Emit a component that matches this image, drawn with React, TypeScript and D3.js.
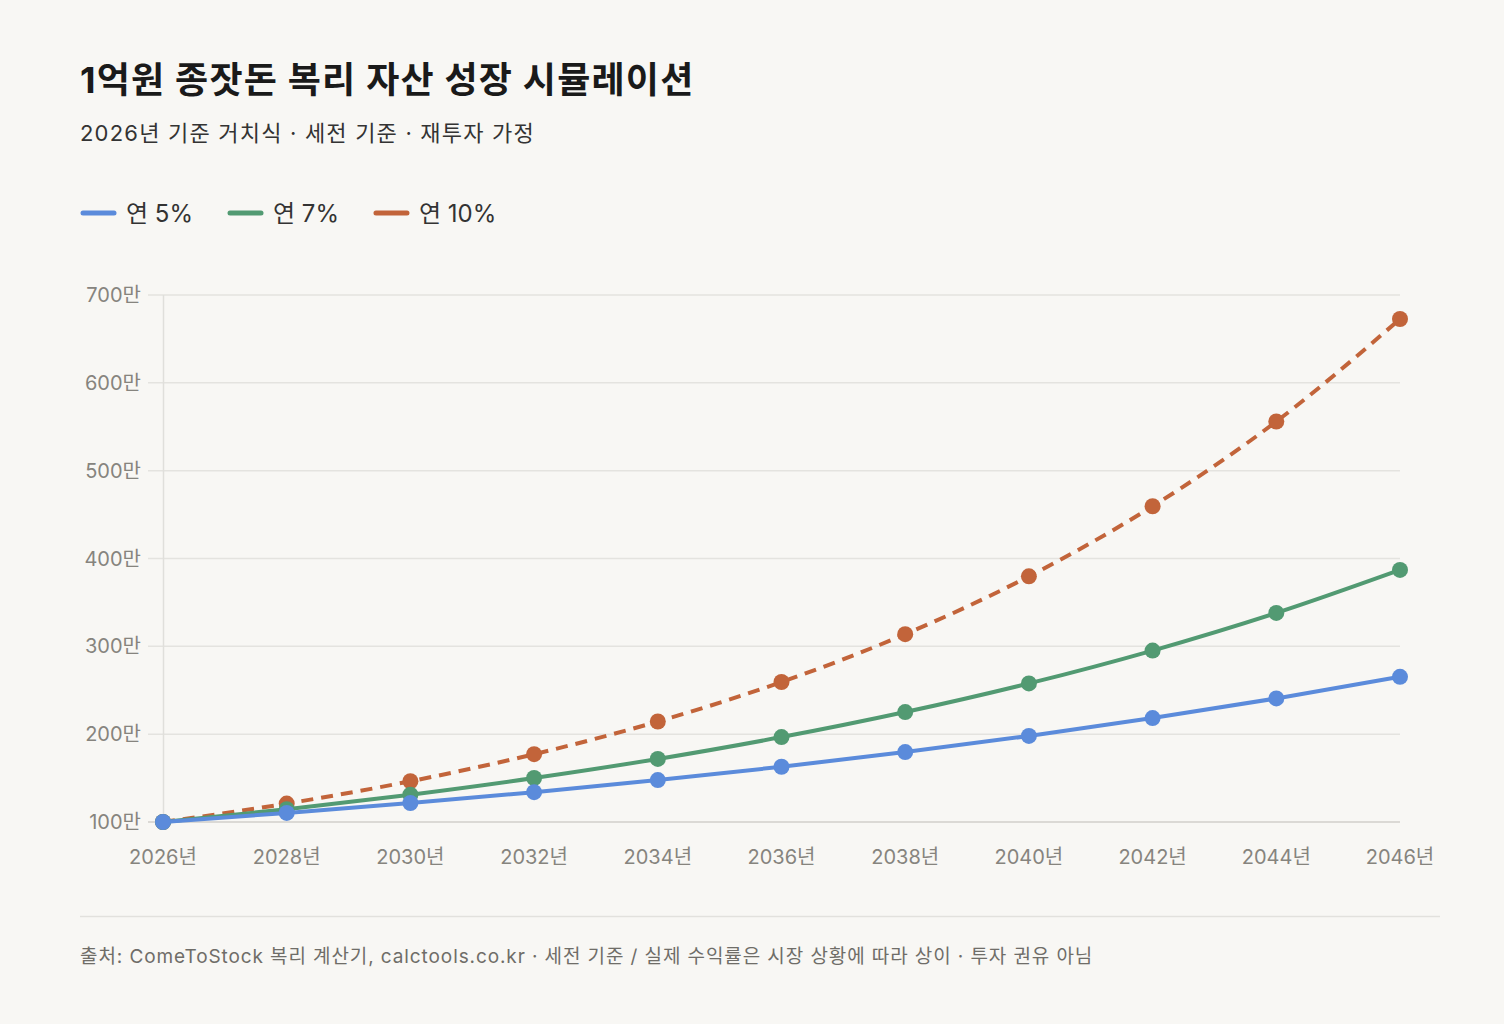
import React, { useEffect, useRef } from "react";
import * as d3 from "d3";

const years = [2026, 2028, 2030, 2032, 2034, 2036, 2038, 2040, 2042, 2044, 2046];
const rate5 = [100, 110.3, 121.6, 134.0, 147.7, 162.9, 179.6, 198.0, 218.3, 240.7, 265.3];
const rate7 = [100, 114.5, 131.1, 150.1, 171.8, 196.7, 225.2, 257.8, 295.2, 338.0, 387.0];
const rate10 = [100, 121.0, 146.4, 177.2, 214.4, 259.4, 313.8, 379.7, 459.5, 556.0, 672.7];
const yTicks = [100, 200, 300, 400, 500, 600, 700];

const seriesList = [
  { name: "연 10%", values: rate10, color: "#c2643a", dash: "12 8" },
  { name: "연 7%", values: rate7, color: "#529a72", dash: null },
  { name: "연 5%", values: rate5, color: "#5b8bdb", dash: null },
];
const legendOrder = ["연 5%", "연 7%", "연 10%"];

const FONT = "Inter, 'Noto Sans CJK KR', sans-serif";

export default function App() {
  const svgRef = useRef<SVGSVGElement>(null);

  useEffect(() => {
    document.body.style.margin = "0";
    document.body.style.background = "#f8f7f4";
    const width = 1504;
    const height = 1024;
    const svg = d3.select(svgRef.current).attr("width", width).attr("height", height)
      .style("display", "block");
    svg.selectAll("*").remove();
    svg.append("rect").attr("width", width).attr("height", height).attr("fill", "#f8f7f4");

    const x = d3.scaleLinear().domain([2026, 2046]).range([163, 1400]);
    const y = d3.scaleLinear().domain([100, 700]).range([822, 295]);

    // title block
    svg.append("text").text("1억원 종잣돈 복리 자산 성장 시뮬레이션")
      .attr("x", 80).attr("y", 93).attr("fill", "#1a1a1a")
      .style("font-family", FONT).style("font-size", "36px").style("font-weight", 700)
      .style("letter-spacing", "1.2px");
    svg.append("text").text("2026년 기준 거치식 · 세전 기준 · 재투자 가정")
      .attr("x", 80).attr("y", 141).attr("fill", "#333")
      .style("font-family", FONT).style("font-size", "22px")
      .style("letter-spacing", "1.2px");

    // legend
    let lx = 81;
    legendOrder.forEach((name) => {
      const s = seriesList.find((d) => d.name === name)!;
      svg.append("line").attr("x1", lx + 2).attr("x2", lx + 33).attr("y1", 213).attr("y2", 213)
        .attr("stroke", s.color).attr("stroke-width", 5).attr("stroke-linecap", "round");
      const t = svg.append("text").text(name).attr("x", lx + 45).attr("y", 222)
        .attr("fill", "#333").style("font-family", FONT).style("font-size", "24px");
      const w = (t.node() as SVGTextElement).getComputedTextLength();
      lx += 45 + w + 35;
    });

    // grid
    const g = svg.append("g");
    g.selectAll("line.grid").data(yTicks).join("line")
      .attr("x1", 148).attr("x2", 1400)
      .attr("y1", (d) => y(d)).attr("y2", (d) => y(d))
      .attr("stroke", "#e4e3df").attr("stroke-width", 1.5);
    g.append("line").attr("x1", 163.5).attr("x2", 163.5).attr("y1", 295).attr("y2", 822)
      .attr("stroke", "#e0dfdb").attr("stroke-width", 1.5);
    g.append("line").attr("x1", 148).attr("x2", 1400).attr("y1", 822).attr("y2", 822)
      .attr("stroke", "#d6d5d1").attr("stroke-width", 1.5);

    g.selectAll("text.ytick").data(yTicks).join("text")
      .text((d) => `${d}만`)
      .attr("x", 141).attr("y", (d) => y(d) + 7)
      .attr("text-anchor", "end").attr("fill", "#86847e")
      .style("font-family", FONT).style("font-size", "20px");
    g.selectAll("text.xtick").data(years).join("text")
      .text((d) => `${d}년`)
      .attr("x", (d) => x(d)).attr("y", 864)
      .attr("text-anchor", "middle").attr("fill", "#86847e")
      .style("font-family", FONT).style("font-size", "20px");

    const line = d3.line<number>()
      .x((d, i) => x(years[i]))
      .y((d) => y(d))
      .curve(d3.curveMonotoneX);

    seriesList.forEach((s) => {
      const sg = svg.append("g");
      sg.append("path").attr("d", line(s.values))
        .attr("fill", "none").attr("stroke", s.color).attr("stroke-width", 4)
        .attr("stroke-dasharray", s.dash ?? null);
      sg.selectAll("circle").data(s.values).join("circle")
        .attr("cx", (d, i) => x(years[i])).attr("cy", (d) => y(d))
        .attr("r", 8).attr("fill", s.color);
    });

    // footer
    svg.append("line").attr("x1", 80).attr("x2", 1440).attr("y1", 916.5).attr("y2", 916.5)
      .attr("stroke", "#e2e1dd").attr("stroke-width", 1.5);
    svg.append("text")
      .text("출처: ComeToStock 복리 계산기, calctools.co.kr · 세전 기준 / 실제 수익률은 시장 상황에 따라 상이 · 투자 권유 아님")
      .attr("x", 80).attr("y", 963).attr("fill", "#6f6d68")
      .style("font-family", FONT).style("font-size", "19px")
      .style("letter-spacing", "0.9px");
  }, []);

  return (
    <div>
      <svg ref={svgRef}></svg>
    </div>
  );
}
